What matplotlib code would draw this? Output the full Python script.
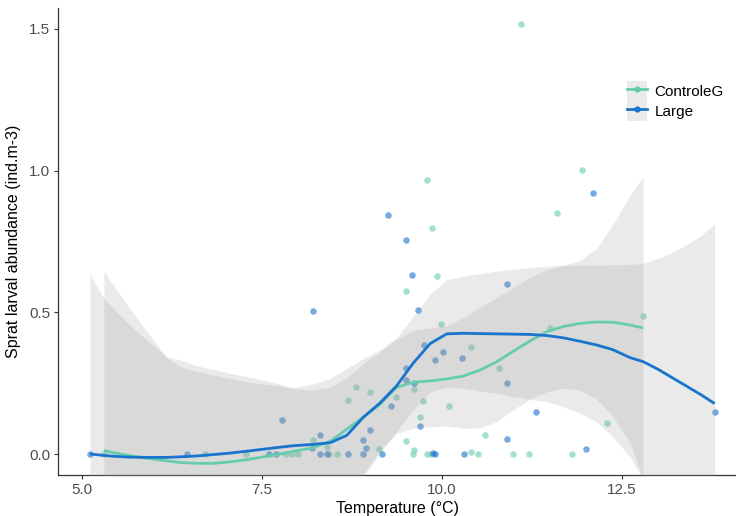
import matplotlib
matplotlib.use('Agg')
import matplotlib.pyplot as plt
from matplotlib.lines import Line2D
from matplotlib.patches import Patch
from matplotlib.legend_handler import HandlerTuple

plt.rcParams['font.family'] = ['Liberation Sans', 'DejaVu Sans']

# ---------------- data ----------------
group_names = ['ControleG', 'Large']
group_colors = ['#66CDAA', '#1874CD']

controle_temp = [5.30, 6.70, 7.27, 7.84, 7.91, 8.00, 8.43, 8.54, 9.60, 9.80, 9.85,
                 10.50, 10.99, 11.21, 11.81,
                 8.21, 8.40, 9.12, 9.61, 10.41, 9.50, 10.60, 9.70, 10.10, 9.735,
                 9.37, 9.00, 8.70, 8.81, 9.61, 10.79, 10.40, 9.99, 9.50, 9.93,
                 9.86, 9.80, 11.106, 11.954, 11.60, 11.50, 12.80, 12.30]
controle_abund = [0.0, 0.0, 0.0, 0.0, 0.0, 0.0, 0.0, 0.0, 0.0, 0.0, 0.0,
                  0.0, 0.0, 0.0, 0.0,
                  0.05, 0.026, 0.019, 0.013, 0.008, 0.046, 0.068, 0.132, 0.169, 0.186,
                  0.201, 0.219, 0.192, 0.236, 0.228, 0.302, 0.379, 0.459, 0.574, 0.627,
                  0.796, 0.967, 1.517, 1.002, 0.849, 0.445, 0.486, 0.108]

large_temp = [5.107, 6.45, 7.60, 7.70, 8.31, 8.40, 8.69, 8.91, 9.17, 9.88, 9.91, 10.31,
              8.20, 8.95, 12.0, 8.31, 8.91, 9.0, 9.70, 10.90, 7.78, 11.31, 13.795,
              9.30, 9.50, 9.61, 10.90, 9.50, 9.90, 10.285, 10.02, 9.755, 9.665,
              8.204, 10.90, 9.585, 9.50, 9.25, 12.10]
large_abund = [0.0, 0.0, 0.0, 0.0, 0.0, 0.0, 0.0, 0.0, 0.0, 0.005, 0.0, 0.0,
               0.022, 0.02, 0.019, 0.066, 0.051, 0.085, 0.099, 0.053, 0.12, 0.148, 0.147,
               0.168, 0.261, 0.252, 0.251, 0.304, 0.332, 0.339, 0.361, 0.383, 0.508,
               0.506, 0.599, 0.632, 0.756, 0.845, 0.922]

# loess smooths (fit and confidence band)
controle_smooth_temp = [5.30, 5.43, 5.66, 5.90, 6.17, 6.36, 6.59, 6.82, 7.05, 7.29, 7.52,
                        7.75, 7.93, 8.21, 8.45, 8.68, 8.91, 9.14, 9.37, 9.60, 9.84,
                        10.07, 10.30, 10.53, 10.76, 10.99, 11.22, 11.46, 11.69, 11.92,
                        12.15, 12.38, 12.62, 12.80]
controle_smooth_fit = [0.012, 0.005, -0.006, -0.015, -0.024, -0.030, -0.033, -0.033, -0.028,
                       -0.020, -0.010, 0.000, 0.009, 0.022, 0.045, 0.088, 0.13, 0.175, 0.235,
                       0.253, 0.258, 0.265, 0.275, 0.296, 0.325, 0.362, 0.398, 0.432, 0.45,
                       0.461, 0.466, 0.465, 0.455, 0.445]
controle_smooth_hi = [0.646, 0.596, 0.514, 0.432, 0.343, 0.308, 0.292, 0.279, 0.267, 0.255,
                      0.247, 0.240, 0.230, 0.226, 0.236, 0.27, 0.32, 0.361, 0.405, 0.437,
                      0.445, 0.453, 0.482, 0.518, 0.553, 0.587, 0.623, 0.652, 0.665, 0.683,
                      0.725, 0.81, 0.915, 0.978]
controle_smooth_lo = [-0.622, -0.586, -0.526, -0.462, -0.391, -0.368, -0.358, -0.345, -0.323,
                      -0.295, -0.267, -0.24, -0.212, -0.182, -0.146, -0.094, -0.07, 0.014,
                      0.073, 0.091, 0.096, 0.099, 0.091, 0.092, 0.114, 0.155, 0.193, 0.22,
                      0.232, 0.225, 0.195, 0.132, 0.038, -0.09]

large_smooth_temp = [5.107, 5.30, 5.43, 5.66, 5.90, 6.17, 6.36, 6.59, 6.82, 7.05, 7.29, 7.52,
                     7.75, 7.93, 8.21, 8.45, 8.68, 8.91, 9.14, 9.37, 9.60, 9.84, 10.07,
                     10.30, 10.53, 10.76, 10.99, 11.22, 11.46, 11.69, 11.92, 12.15, 12.38,
                     12.62, 12.80, 13.0, 13.2, 13.4, 13.6, 13.795]
large_smooth_fit = [0.0, -0.005, -0.008, -0.011, -0.012, -0.012, -0.010, -0.007, -0.002,
                    0.003, 0.010, 0.017, 0.024, 0.029, 0.034, 0.040, 0.066, 0.13, 0.18,
                    0.24, 0.32, 0.39, 0.424, 0.426, 0.425, 0.424, 0.423, 0.422, 0.418,
                    0.41, 0.398, 0.385, 0.368, 0.34, 0.326, 0.30, 0.27, 0.24, 0.21, 0.178]
large_smooth_hi = [0.635, 0.549, 0.514, 0.455, 0.402, 0.343, 0.332, 0.311, 0.299, 0.285,
                   0.273, 0.261, 0.247, 0.234, 0.247, 0.267, 0.302, 0.338, 0.367, 0.41,
                   0.485, 0.565, 0.615, 0.628, 0.637, 0.645, 0.652, 0.658, 0.663, 0.666,
                   0.667, 0.667, 0.668, 0.669, 0.673, 0.69, 0.71, 0.737, 0.77, 0.812]
large_smooth_lo = [-0.635, -0.56, -0.53, -0.48, -0.43, -0.37, -0.35, -0.325, -0.30, -0.28,
                   -0.25, -0.23, -0.20, -0.18, -0.18, -0.19, -0.17, -0.078, 0.002, 0.079,
                   0.155, 0.22, 0.235, 0.232, 0.222, 0.214, 0.203, 0.193, 0.185, 0.167,
                   0.144, 0.114, 0.061, -0.01, -0.09, -0.15, -0.22, -0.29, -0.36, -0.45]

x_ticks = [5.0, 7.5, 10.0, 12.5]
x_tick_labels = ['5.0', '7.5', '10.0', '12.5']
y_ticks = [0.0, 0.5, 1.0, 1.5]
y_tick_labels = ['0.0', '0.5', '1.0', '1.5']

# ---------------- plot ----------------
fig = plt.figure(figsize=(7.36, 5.16), dpi=100)
ax = fig.add_axes([58 / 736, 1 - 475 / 516, 1 - 58 / 736, (475 - 8) / 516])

ax.scatter(controle_temp, controle_abund, s=22, color=group_colors[0], alpha=0.6,
           linewidths=0, zorder=2)
ax.scatter(large_temp, large_abund, s=22, color=group_colors[1], alpha=0.6,
           linewidths=0, zorder=2)

ax.fill_between(controle_smooth_temp, controle_smooth_lo, controle_smooth_hi,
                color='#999999', alpha=0.2, linewidth=0, zorder=3)
ax.fill_between(large_smooth_temp, large_smooth_lo, large_smooth_hi,
                color='#999999', alpha=0.2, linewidth=0, zorder=3)
ax.plot(controle_smooth_temp, controle_smooth_fit, color=group_colors[0], lw=2.0, zorder=4,
        solid_capstyle='butt', solid_joinstyle='round')
ax.plot(large_smooth_temp, large_smooth_fit, color=group_colors[1], lw=2.0, zorder=5,
        solid_capstyle='butt', solid_joinstyle='round')

ax.set_xlim(4.662, 14.092)
ax.set_ylim(-0.0741, 1.574)
ax.set_xticks(x_ticks)
ax.set_xticklabels(x_tick_labels)
ax.set_yticks(y_ticks)
ax.set_yticklabels(y_tick_labels)

for side in ['top', 'right']:
    ax.spines[side].set_visible(False)
for side in ['left', 'bottom']:
    ax.spines[side].set_color('#333333')
    ax.spines[side].set_linewidth(0.9)
ax.tick_params(axis='both', direction='out', length=3, width=0.8, color='#333333',
               labelsize=11, labelcolor='#4D4D4D', pad=2.5)

ax.set_xlabel('Temperature (°C)', fontsize=11.5, color='black', labelpad=3)
ax.set_ylabel('Sprat larval abundance (ind.m-3)', fontsize=11.5, color='black', labelpad=6)

handles = []
for name, col in zip(group_names, group_colors):
    handles.append((Patch(facecolor='#EBEBEB', edgecolor='none'),
                    Line2D([], [], color=col, lw=2.0, marker='o', markersize=4.5,
                           markeredgewidth=0)))
leg = fig.legend(handles, group_names,
                 handler_map={tuple: HandlerTuple(ndivide=1, pad=0)},
                 loc='upper left', bbox_to_anchor=(627 / 736, 1 - 81 / 516),
                 frameon=False, fontsize=11, handlelength=1.3, handleheight=1.65,
                 labelspacing=0.0, handletextpad=0.5, borderpad=0, borderaxespad=0)

fig.savefig('out.png', dpi=100)
